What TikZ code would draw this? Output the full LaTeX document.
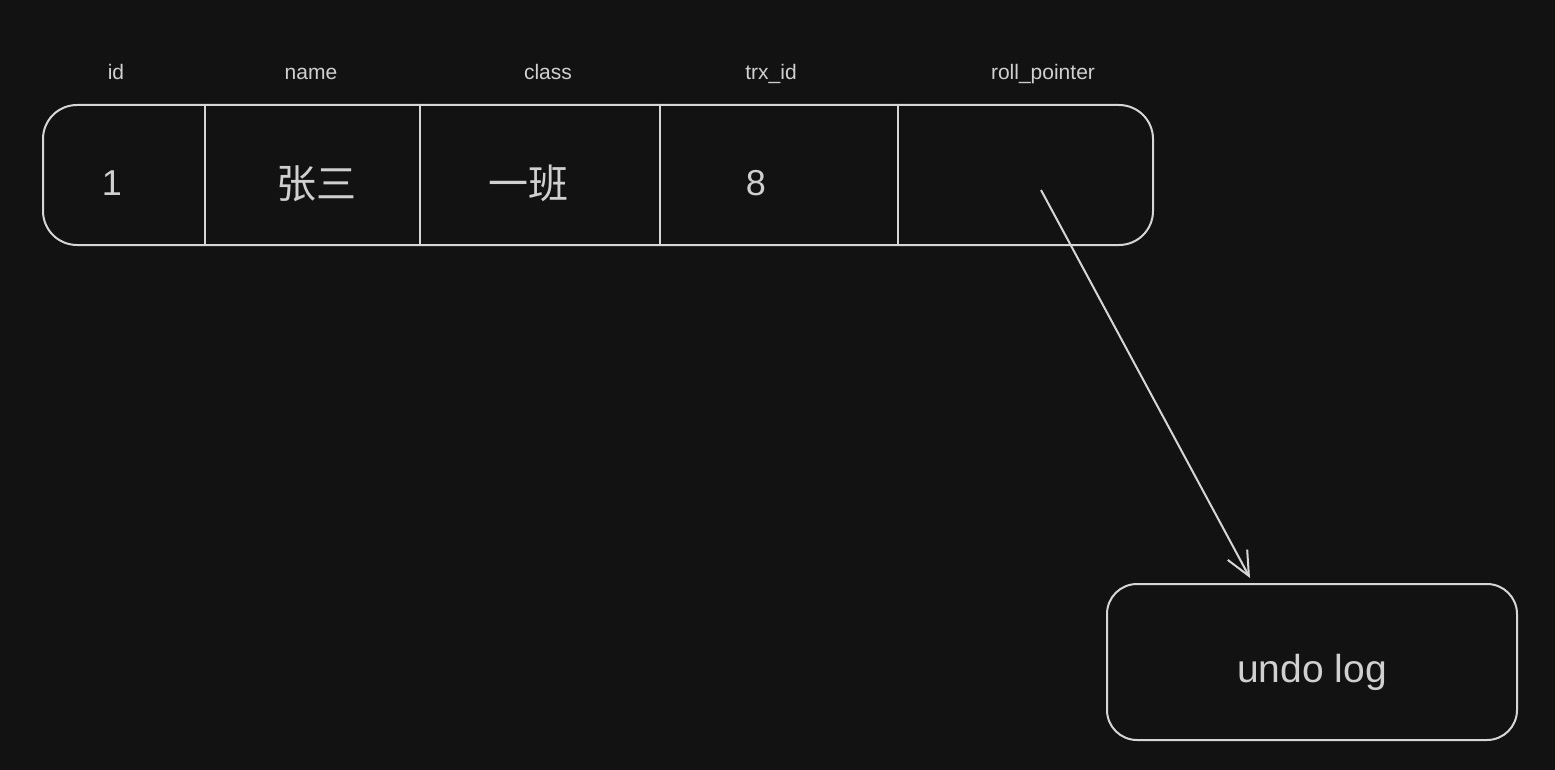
\documentclass[tikz,border=0pt]{standalone}
\usepackage{fontspec}
\setmainfont{Liberation Sans}
\newfontfamily\cjk{Noto Sans CJK SC}
\usetikzlibrary{arrows.meta}
\definecolor{bg}{HTML}{121212}
\definecolor{ink}{HTML}{D6D6D6}
\definecolor{txt}{HTML}{D0D0D0}
\tikzset{
  rowbox/.style={draw=ink, line width=2pt, rounded corners=34pt, minimum width=1110pt, minimum height=140pt, inner sep=0pt},
  logbox/.style={draw=ink, line width=2pt, rounded corners=30pt, minimum width=410pt, minimum height=156pt, inner sep=0pt},
  logtext/.style={text=txt, font=\fontsize{39}{45}\selectfont, inner sep=0pt, anchor=base},
  cell/.style={text=txt, font=\fontsize{36}{42}\selectfont, inner sep=0pt, anchor=base},
  cjkcell/.style={text=txt, font=\cjk\fontsize{40}{46}\selectfont, inner sep=0pt, anchor=base},
  header/.style={text=txt, font=\fontsize{21}{25}\selectfont, inner sep=0pt, anchor=base},
  divider/.style={draw=ink, line width=2pt},
  pointer/.style={draw=ink, line width=2pt, -{Straight Barb[length=24pt,width=22pt,line width=2pt]}}
}
\begin{document}
\begin{tikzpicture}[x=1pt,y=-1pt]
\fill[bg] (0,0) rectangle (1555,770);
\useasboundingbox (0,0) rectangle (1555,770);
% headers
\node[header] (hid) at (116,80) {id};
\node[header] (hname) at (311,80) {name};
\node[header] (hclass) at (548,80) {class};
\node[header] (htrx) at (771,80) {trx\_id};
\node[header] (hroll) at (1043,80) {roll\_pointer};
% row box
\node[rowbox] (row) at (598,175) {};
% dividers
\foreach \x/\n in {205/a,420/b,660/c,898/d}{
  \coordinate (\n top) at (\x,104);
  \coordinate (\n bot) at (\x,246);
  \draw[divider] (\n top) -- (\n bot);
}
% cells
\node[cell] (cid) at (112,196) {1};
\node[cjkcell] (cname) at (316,199) {张三};
\node[cjkcell] (cclass) at (528,199) {一班};
\node[cell] (ctrx) at (756,196) {8};
\coordinate (rp) at (1041,190);
% undo log
\node[logbox] (undo) at (1312,662) {};
\node[logtext] (undotext) at (1312,682) {undo log};
\coordinate (tip) at (1250,578);
\draw[pointer] (rp) -- (tip);
\end{tikzpicture}
\end{document}
